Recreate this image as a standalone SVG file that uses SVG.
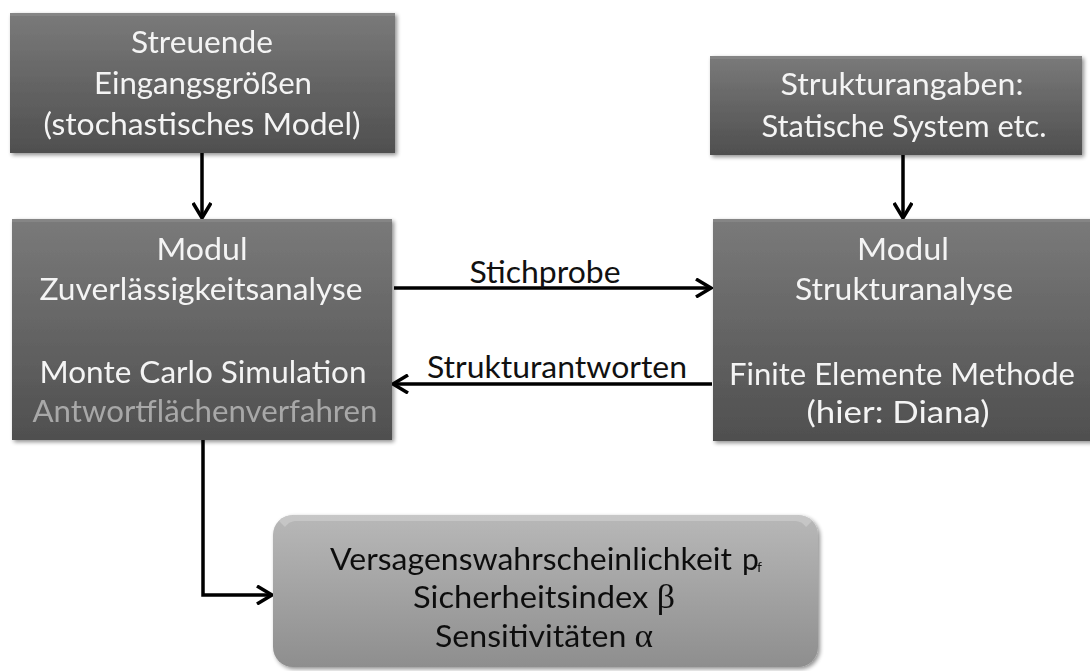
<svg xmlns="http://www.w3.org/2000/svg" width="1090" height="671" viewBox="0 0 1090 671">
<style>
.t{font-family:Lato,"Open Sans","Liberation Sans",sans-serif;font-size:30px;text-anchor:middle;fill:#f4f4f4}
.g{fill:#a8a8a8}
.k{fill:#111;font-family:Lato,"Open Sans","Liberation Sans",sans-serif;font-size:30px;text-anchor:middle}
.gr{font-family:"Liberation Serif",serif;font-size:33px}
.st{text-anchor:start}
.sub{font-size:14px;text-anchor:start}
.c{fill:none;stroke:#000;stroke-width:3.5}
.dark{fill:url(#gd)}
.hl{fill:#8a8a8a;opacity:0.7}
</style>
<defs>
<linearGradient id="gd" x1="0" y1="0" x2="0" y2="1">
<stop offset="0" stop-color="#7a7a7a"/>
<stop offset="1" stop-color="#4f4f4f"/>
</linearGradient>
<linearGradient id="gl" x1="0" y1="0" x2="0" y2="1">
<stop offset="0" stop-color="#b8b8b8"/>
<stop offset="1" stop-color="#8e8e8e"/>
</linearGradient>
<filter id="sh" x="-5%" y="-5%" width="112%" height="115%">
<feGaussianBlur in="SourceAlpha" stdDeviation="2"/>
<feOffset dx="2" dy="2" result="b"/>
<feComponentTransfer><feFuncA type="linear" slope="0.45"/></feComponentTransfer>
<feMerge><feMergeNode/><feMergeNode in="SourceGraphic"/></feMerge>
</filter>
<marker id="ah" viewBox="0 0 20 20" refX="17" refY="10" markerWidth="20" markerHeight="20" markerUnits="userSpaceOnUse" orient="auto">
<path d="M2,1 L17,10 L2,19" fill="none" stroke="#000" stroke-width="3.5"/>
</marker>
</defs>

<g id="connectors">
<line class="c" x1="202" y1="153" x2="202" y2="218" marker-end="url(#ah)"/>
<line class="c" x1="903" y1="155" x2="903" y2="218" marker-end="url(#ah)"/>
<line class="c" x1="394" y1="288" x2="711" y2="288" marker-end="url(#ah)"/>
<line class="c" x1="712" y1="384" x2="393" y2="384" marker-end="url(#ah)"/>
<polyline class="c" points="203,440 203,595 272,595" marker-end="url(#ah)"/>
<text class="k" x="545" y="283" textLength="151" lengthAdjust="spacingAndGlyphs">Stichprobe</text>
<text class="k" x="557" y="378" textLength="260" lengthAdjust="spacingAndGlyphs">Strukturantworten</text>
</g>

<g id="n1" filter="url(#sh)">
<rect class="dark" x="10" y="13" width="385" height="140"/>
<rect class="hl" x="10" y="13" width="385" height="3"/>
<text class="t" x="202" y="53" textLength="142" lengthAdjust="spacingAndGlyphs">Streuende</text>
<text class="t" x="203" y="94" textLength="218" lengthAdjust="spacingAndGlyphs">Eingangsgrößen</text>
<text class="t" x="202" y="135" textLength="317" lengthAdjust="spacingAndGlyphs">(stochastisches Model)</text>
</g>

<g id="n2" filter="url(#sh)">
<rect class="dark" x="710" y="56" width="372" height="99"/>
<rect class="hl" x="710" y="56" width="372" height="3"/>
<text class="t" x="902" y="95" textLength="243" lengthAdjust="spacingAndGlyphs">Strukturangaben:</text>
<text class="t" x="904" y="137" textLength="285" lengthAdjust="spacingAndGlyphs">Statische System etc.</text>
</g>

<g id="n3" filter="url(#sh)">
<rect class="dark" x="12" y="219" width="380" height="221"/>
<rect class="hl" x="12" y="219" width="380" height="3"/>
<text class="t" x="202" y="260" textLength="91" lengthAdjust="spacingAndGlyphs">Modul</text>
<text class="t" x="201" y="300" textLength="323" lengthAdjust="spacingAndGlyphs">Zuverlässigkeitsanalyse</text>
<text class="t" x="203" y="383" textLength="327" lengthAdjust="spacingAndGlyphs">Monte Carlo Simulation</text>
<text class="t g" x="205" y="422" textLength="345" lengthAdjust="spacingAndGlyphs">Antwortflächenverfahren</text>
</g>

<g id="n4" filter="url(#sh)">
<rect class="dark" x="713" y="219" width="380" height="222"/>
<rect class="hl" x="713" y="219" width="380" height="3"/>
<text class="t" x="903" y="260" textLength="92" lengthAdjust="spacingAndGlyphs">Modul</text>
<text class="t" x="904" y="300" textLength="218" lengthAdjust="spacingAndGlyphs">Strukturanalyse</text>
<text class="t" x="902" y="385" textLength="346" lengthAdjust="spacingAndGlyphs">Finite Elemente Methode</text>
<text class="t" x="898" y="423" textLength="183" lengthAdjust="spacingAndGlyphs">(hier: Diana)</text>
</g>

<g id="n5" filter="url(#sh)">
<rect x="273" y="515" width="545" height="152" rx="20" ry="20" fill="url(#gl)"/>
<path d="M293,515 H798 A20,20 0 0 1 812,521 L806,527 A14,14 0 0 0 796,521 H295 A14,14 0 0 0 285,527 L279,521 A20,20 0 0 1 293,515 Z" fill="#d0d0d0" opacity="0.6"/>
<text class="k" x="531" y="570" textLength="402" lengthAdjust="spacingAndGlyphs">Versagenswahrscheinlichkeit</text>
<text class="k st" x="742" y="570">p</text>
<text class="k sub" x="757" y="572">f</text>
<text class="k" x="544" y="608" textLength="262" lengthAdjust="spacingAndGlyphs">Sicherheitsindex <tspan class="gr">β</tspan></text>
<text class="k" x="544" y="647" textLength="218" lengthAdjust="spacingAndGlyphs">Sensitivitäten <tspan class="gr">α</tspan></text>
</g>
</svg>
